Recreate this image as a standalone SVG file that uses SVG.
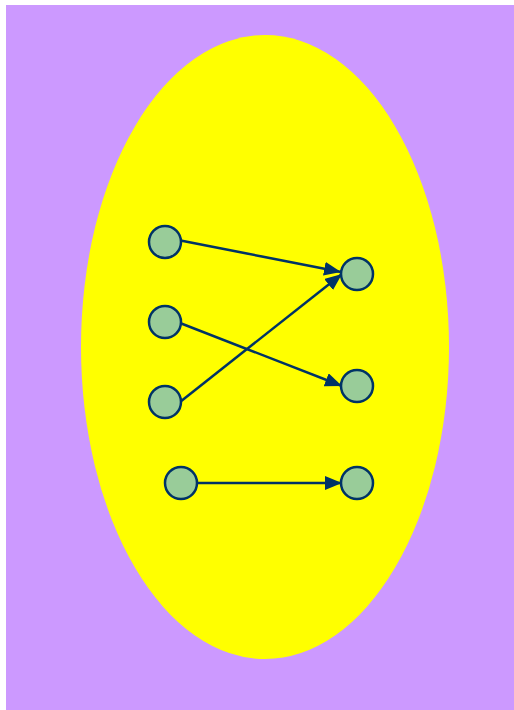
<svg xmlns="http://www.w3.org/2000/svg" width="514" height="710" viewBox="0 0 514 710">
<style>
.n{fill:#99cc99;stroke:#003366;stroke-width:2.5}
.e{stroke:#003366;stroke-width:2.5;fill:none;marker-end:url(#a)}
</style>
<defs>
<marker id="a" markerUnits="userSpaceOnUse" markerWidth="18" markerHeight="14" refX="17" refY="7" orient="auto">
<path d="M0,0 L17,7 L0,14 Z" fill="#003366"/>
</marker>
</defs>
<rect x="6" y="5" width="508" height="705" fill="#cc99ff"/>
<ellipse cx="265" cy="347" rx="184" ry="312" fill="#ffff00"/>
<g id="connectors">
<line class="e" x1="178" y1="240" x2="341" y2="272"/>
<line class="e" x1="180" y1="323" x2="342" y2="386"/>
<line class="e" x1="180" y1="402" x2="342" y2="274"/>
<line class="e" x1="197" y1="483" x2="342" y2="483"/>
</g>
<g id="l1"><circle class="n" cx="165" cy="242" r="16"/></g>
<g id="l2"><circle class="n" cx="165" cy="322" r="16"/></g>
<g id="l3"><circle class="n" cx="165" cy="402" r="16"/></g>
<g id="l4"><circle class="n" cx="181" cy="483" r="16"/></g>
<g id="r1"><circle class="n" cx="357" cy="274" r="16"/></g>
<g id="r2"><circle class="n" cx="357" cy="386" r="16"/></g>
<g id="r3"><circle class="n" cx="357" cy="483" r="16"/></g>
</svg>
